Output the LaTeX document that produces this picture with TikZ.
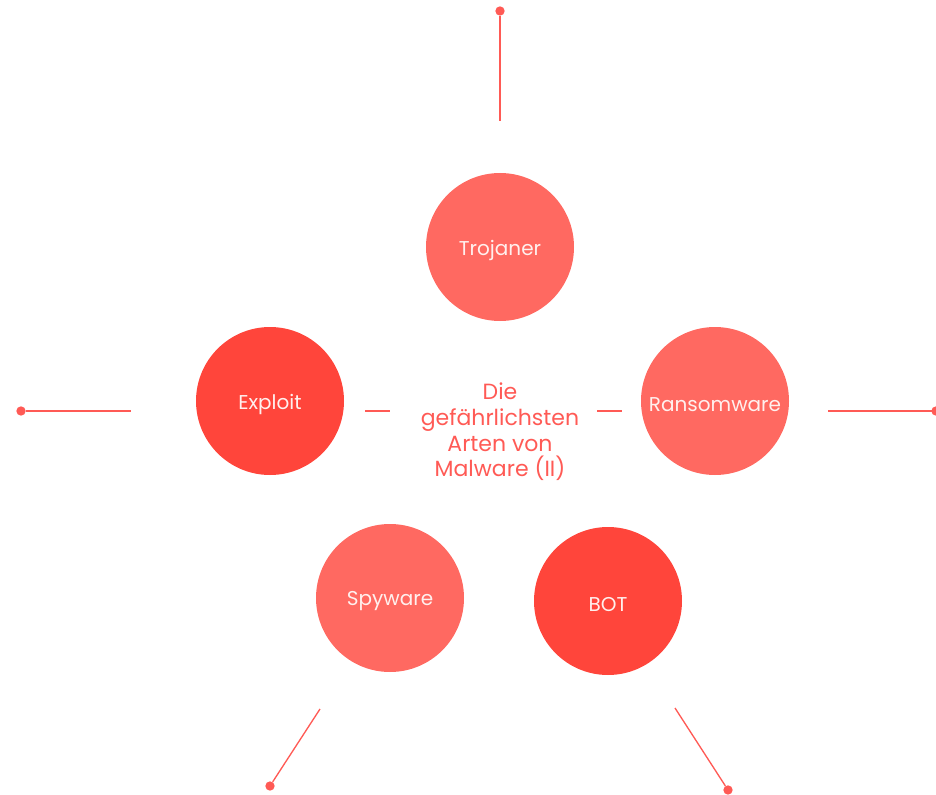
\documentclass[tikz,border=0pt]{standalone}
\usepackage{fontspec}
\setmainfont{Poppins}
\definecolor{lightred}{HTML}{FF6961}
\definecolor{darkred}{HTML}{FF453B}
\definecolor{linered}{HTML}{FF5A55}
\definecolor{softwhite}{HTML}{FFF0EE}

\begin{document}
\begin{tikzpicture}[x=0.75pt,y=-0.75pt,
  bubble/.style={circle,minimum size=111pt,inner sep=0pt,text=softwhite,font=\fontsize{15}{17}\selectfont},
  bubbletext/.style={text=softwhite,font=\fontsize{15}{17}\selectfont},
  dot/.style={circle,fill=linered,minimum size=7pt,inner sep=0pt},
  spoke/.style={color=linered,line width=1pt}]
\useasboundingbox (0,0) rectangle (936,795);
\node[bubble,fill=lightred] (trojaner) at (500,247) {};
\node[bubble,fill=darkred] (exploit) at (270,401) {};
\node[bubble,fill=lightred] (ransom) at (715,401) {};
\node[bubble,fill=lightred] (spyware) at (390,598) {};
\node[bubble,fill=darkred] (bot) at (608,601) {};
\node[bubbletext] (ltrojaner) at ([yshift=-2.5pt]trojaner.center) {Trojaner};
\node[bubbletext] (lexploit) at ([yshift=-2.5pt]exploit.center) {Exploit};
\node[bubbletext] (lransom) at ([yshift=-2.5pt]ransom.center) {Ransomware};
\node[bubbletext] (lspyware) at ([yshift=-2.5pt]spyware.center) {Spyware};
\node[bubbletext] (lbot) at ([yshift=-2.5pt]bot.center) {BOT};
\node[align=center,text=linered,font=\fontsize{16.5}{19.3}\selectfont] (title) at (500,432) {Die\\gef\"ahrlichsten\\Arten von\\Malware (II)};
% spokes
\node[dot] (dtop) at (500,11) {};
\node[dot] (dleft) at (21,411) {};
\node[dot] (dright) at (936,411) {};
\node[dot] (dsw) at (270,786) {};
\node[dot] (dse) at (728,790) {};
\coordinate (etop) at (500,121);
\coordinate (eleft) at (131,411);
\coordinate (eright) at (828,411);
\coordinate (esw) at (320,709);
\coordinate (ese) at (675,708);
\draw[spoke] (dtop) -- (etop);
\draw[spoke] (dleft) -- (eleft);
\draw[spoke] (dright.center) -- (eright);
\draw[spoke] (dsw) -- (esw);
\draw[spoke] (dse) -- (ese);
% short dashes beside the title
\coordinate (la) at (365,411);
\coordinate (lb) at (390,411);
\coordinate (ra) at (597,411);
\coordinate (rb) at (622,411);
\draw[spoke] (la) -- (lb);
\draw[spoke] (ra) -- (rb);
\end{tikzpicture}
\end{document}
